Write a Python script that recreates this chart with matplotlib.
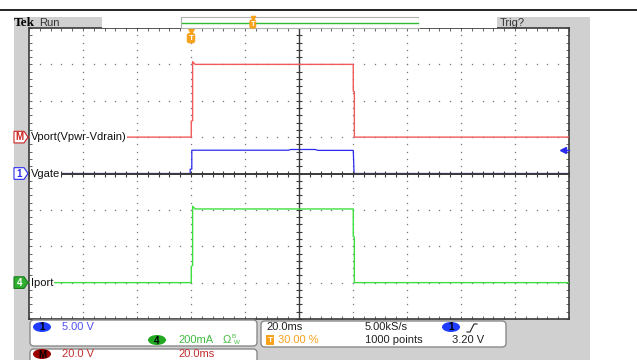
import numpy as np
import matplotlib
matplotlib.use("Agg")
import matplotlib.pyplot as plt
import matplotlib.transforms as mtransforms
from matplotlib.patches import Rectangle, FancyBboxPatch, Ellipse, Polygon

plt.rcParams['font.family'] = ['Liberation Sans', 'DejaVu Sans']

# scope settings
time_per_div = 20.0      # ms/div
trig_percent = 30.0      # trigger position in record
ch1_scale = 5.0          # V/div
ch4_scale = 200.0        # mA/div
math_scale = 20.0        # V/div
ch1_pos = 0.0            # marker positions in divisions
ch4_pos = -3.0
math_pos = 1.0
trig_level = 3.20        # V on ch1

# traces (time in ms)
vport_t = [-60.0, 0.1, 0.1, 0.6, 0.6, 1.5, 60.1, 60.1, 60.5, 60.5, 140.0]
vport_v = [0.0, 0.0, 8.8, 9.0, 41.5, 40.0, 40.0, 25.3, 25.0, 0.0, 0.0]

vgate_t = [-60.0, -0.3, -0.3, 0.3, 0.3, 36.0, 37.0, 46.0, 47.0, 60.1, 60.4, 140.0]
vgate_v = [0.0, 0.0, 0.6, 0.6, 3.2, 3.2, 3.3, 3.3, 3.18, 3.18, 0.0, 0.0]

iport_t = [-60.0, 0.1, 0.1, 0.6, 0.6, 1.5, 60.1, 60.1, 60.5, 60.5, 140.0]
iport_ma = [0.0, 0.0, 88.0, 95.0, 420.0, 405.0, 405.0, 254.0, 250.0, 0.0, 0.0]

RED = '#f25a5a'
BLUE = '#2b2bf0'
GREEN = '#3ee03e'
ORANGE = '#f7a21b'
GRAY = '#d0d0d0'

fig = plt.figure(figsize=(6.37, 3.6), dpi=100)
fig.patch.set_facecolor('white')
# pixel coords, y down
tpx = mtransforms.Affine2D().scale(1 / 637, -1 / 360).translate(0, 1) + fig.transFigure

fig.add_artist(plt.Line2D([0, 637], [10, 10], color='black', lw=1.2, transform=tpx))
fig.add_artist(Rectangle((14, 17), 576, 343, transform=tpx, fc=GRAY, ec='none', zorder=-5))

# header
fig.text(14, 22.5, 'Tek', transform=tpx, family='Liberation Serif', weight='bold',
         fontsize=9.5, va='center', ha='left')
fig.text(39, 22.5, 'Run', transform=tpx, fontsize=8, va='center', ha='left', color='#333333')
fig.add_artist(Rectangle((102, 17), 79, 11, transform=tpx, fc='white', ec='none'))
fig.add_artist(Rectangle((181, 17), 238, 11, transform=tpx, fc='white', ec='#b0b0b0', lw=0.8))
fig.add_artist(Rectangle((419, 17), 78, 11, transform=tpx, fc='white', ec='none'))
fig.add_artist(plt.Line2D([182, 418], [22.5, 22.5], color='#33bb33', lw=1.0, transform=tpx))
tx = 182 + trig_percent / 100 * 236
fig.text(tx, 24, 'T', transform=tpx, fontsize=5.5, color='white', weight='bold', ha='center', va='center',
         bbox=dict(boxstyle='round,pad=0.15,rounding_size=0.3', fc=ORANGE, ec='none'))
fig.add_artist(plt.Line2D([tx], [18], marker='v', ms=3, color=ORANGE, transform=tpx))
fig.text(500, 22.5, 'Trig?', transform=tpx, fontsize=8, va='center', ha='left', color='#333333')

# graticule
ax = fig.add_axes([29 / 637, 41 / 360, 540 / 637, 291 / 360])
t0 = -trig_percent / 100 * 10 * time_per_div
t1 = t0 + 10 * time_per_div
tc = t0 + 5 * time_per_div
ax.set_xlim(t0, t1)
ax.set_ylim(-4, 4)
ax.set_facecolor('white')
for s in ax.spines.values():
    s.set_color('#3a3a3a')
    s.set_linewidth(1.2)
ax.set_xticks(np.arange(t0, t1 + 0.01, time_per_div / 5))
ax.set_yticks(np.arange(-4, 4.01, 0.2))
ax.tick_params(direction='in', length=2, width=0.7, color='#666666',
               top=True, right=True, labelbottom=False, labelleft=False)

minor_x = np.arange(t0, t1 + 0.01, time_per_div / 5)
minor_y = np.arange(-4, 4.01, 0.2)
major_x = [t0 + time_per_div * k for k in [1, 2, 3, 4, 6, 7, 8, 9]]
major_y = [-3, -2, -1, 1, 2, 3]
gx, gy = np.meshgrid(major_x, minor_y)
ax.plot(gx.ravel(), gy.ravel(), 's', ms=0.9, color='#777777', mew=0)
gx, gy = np.meshgrid(minor_x, major_y)
ax.plot(gx.ravel(), gy.ravel(), 's', ms=0.9, color='#777777', mew=0)

ax.axhline(0, color='#3a3a3a', lw=1.4, zorder=3)
ax.axvline(tc, color='#3a3a3a', lw=1.0, zorder=3)
ax.plot(minor_x, np.zeros_like(minor_x), '|', ms=4, color='#3a3a3a', mew=0.8, zorder=3)
ax.plot(np.full_like(minor_y, tc), minor_y, '_', ms=4, color='#3a3a3a', mew=0.8, zorder=3)

# traces
ax.plot(vport_t, np.array(vport_v) / math_scale + math_pos, color=RED, lw=1.0, zorder=4)
ax.plot(vgate_t, np.array(vgate_v) / ch1_scale + ch1_pos, color=BLUE, lw=0.9, zorder=2.5)
ax.plot(iport_t, np.array(iport_ma) / ch4_scale + ch4_pos, color=GREEN, lw=1.0, zorder=4)

# trigger markers
ax.plot([0], [3.93], 'v', ms=4, color=ORANGE, clip_on=False, zorder=6)
ax.text(0, 3.72, 'T', fontsize=6, color='white', weight='bold', ha='center', va='center', zorder=6,
        bbox=dict(boxstyle='round,pad=0.2,rounding_size=0.3', fc=ORANGE, ec='none'))
ty = trig_level / ch1_scale + ch1_pos
ax.plot([t1 - 2.4, t1], [ty, ty], color=BLUE, lw=1.0, clip_on=False, zorder=6)
ax.plot([t1 - 2.4], [ty], '<', ms=4, color=BLUE, clip_on=False, zorder=6)

# channel labels and markers
blend = mtransforms.blended_transform_factory(tpx, ax.transData)
labels = [('M', 'Vport(Vpwr-Vdrain)', math_pos, 'white', '#cc2222', '#cc2222'),
          ('1', 'Vgate', ch1_pos, 'white', BLUE, BLUE),
          ('4', 'Iport', ch4_pos, '#2fae2f', '#1d7a1d', 'white')]
for mk, name, pos, fc, ec, tc_ in labels:
    h = 0.16
    ax.add_patch(Polygon([(14, pos + h), (24, pos + h), (28, pos), (24, pos - h), (14, pos - h)],
                         closed=True, transform=blend, fc=fc, ec=ec, lw=0.8, clip_on=False, zorder=7))
    ax.text(19.5, pos, mk, transform=blend, fontsize=7, color=tc_, weight='bold',
            ha='center', va='center', zorder=8, clip_on=False)
    ax.text(31, pos, name, transform=blend, fontsize=8, color='#111111', ha='left', va='center',
            zorder=5, bbox=dict(boxstyle='square,pad=0.05', fc='white', ec='none'))

# bottom readouts
for (x, y, w, h) in [(30, 320, 227, 26), (261, 321, 245, 26), (30, 349, 227, 14)]:
    fig.add_artist(FancyBboxPatch((x, y), w, h, boxstyle='round,pad=0,rounding_size=4',
                                  transform=tpx, fc='white', ec='#8a8a8a', lw=1.0))


def badge(x, y, s, fc):
    fig.add_artist(Ellipse((x, y), 18, 10, transform=tpx, fc=fc, ec='none'))
    fig.text(x, y + 0.5, s, transform=tpx, fontsize=7, color='black', weight='bold', ha='center', va='center')


def readout(x, y, s, color='#222222'):
    fig.text(x, y, s, transform=tpx, fontsize=8, color=color, ha='left', va='center')


badge(42, 327, '1', '#1f3cff')
readout(62, 327, f'{ch1_scale:.2f} V', '#5050f0')
badge(157, 340, '4', '#22a822')
readout(178, 340, f'{ch4_scale:.0f}mA', '#44bb44')
readout(223, 340, 'Ω', '#44bb44')
fig.text(231, 337, 'B', transform=tpx, fontsize=4.5, color='#44bb44', ha='left', va='center')
fig.text(234, 342, 'W', transform=tpx, fontsize=4.5, color='#44bb44', ha='left', va='center')

readout(266, 327, f'{time_per_div:.1f}ms')
fig.text(270, 340, 'T', transform=tpx, fontsize=6, color='white', weight='bold', ha='center', va='center',
         bbox=dict(boxstyle='square,pad=0.15', fc=ORANGE, ec='none'))
readout(278, 340, f'{trig_percent:.2f} %', ORANGE)
readout(365, 327, '5.00kS/s')
readout(365, 340, '1000 points')
badge(451, 327, '1', '#1f3cff')
fig.add_artist(plt.Line2D([467, 470, 474, 477], [332, 332, 324, 324], color='#222222', lw=0.8, transform=tpx))
readout(452, 340, f'{trig_level:.2f} V')

badge(42, 354, 'M', '#9b0000')
readout(62, 354, f'{math_scale:.1f} V', '#c03030')
readout(178, 354, f'{time_per_div:.1f}ms', '#c03030')

fig.savefig('out.png', dpi=100)
